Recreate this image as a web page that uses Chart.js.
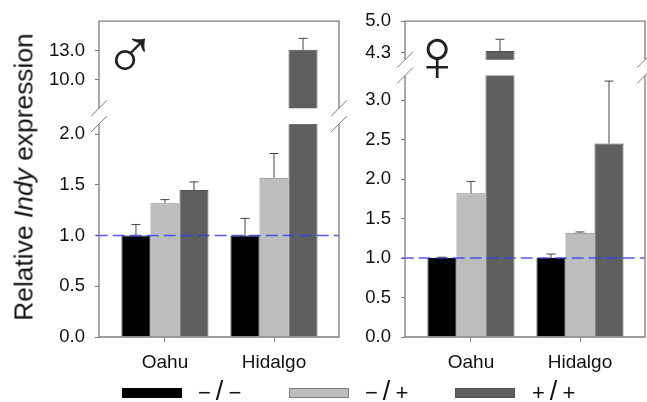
<!DOCTYPE html>
<html>
<head>
<meta charset="utf-8">
<script src="https://cdn.jsdelivr.net/npm/chart.js@4/dist/chart.umd.min.js"></script>
<style>
  body { margin: 0; background: #fff; width: 647px; height: 402px; overflow: hidden; position: relative; font-family: "Liberation Sans", sans-serif; color: #111; }
  canvas { position: absolute; top: 0; }
  .ylabel { position: absolute; left: 24px; top: 177px; font-size: 26.4px; white-space: nowrap; transform: translate(-50%, -50%) rotate(-90deg); }
  .sex { position: absolute; font-family: "Liberation Sans"; line-height: 1; transform: translate(-50%, -50%); color: #222; }
  .swatch { position: absolute; top: 388px; width: 60px; height: 10px; box-sizing: border-box; }
  .gt { position: absolute; top: 378px; font-size: 22px; line-height: 27px; white-space: nowrap; }
  .gt span { font-size: 27px; margin: 0 5px; }
</style>
</head>
<body>
<canvas id="male" width="348" height="402" style="left:0"></canvas>
<canvas id="female" width="302" height="402" style="left:345px"></canvas>
<div class="ylabel">Relative <i>Indy</i> expression</div>
<div class="sex" style="left:130px;top:54px;font-size:72px">♂</div>
<div class="sex" style="left:437px;top:55px;font-size:75px">♀</div>
<div id="legend"></div>

<script>
const sites = ['Oahu', 'Hidalgo'];
const genotypes = ['−/−', '−/+', '+/+'];
const fills = ['#000000', '#bdbdbd', '#5f5f5f'];
const edges = ['#000000', '#808080', '#505050'];
const axisGray = '#7c7c7c';

const maleNull = [1, 1];
const maleHet = [1.32, 1.57];
const maleHom = [1.45, 13.1];
const maleNullTop = [1.11, 1.17];
const maleHetTop = [1.355, 1.81];
const maleHomTop = [1.53, 14.3];
const maleTicks = [0, 0.5, 1, 1.5, 2, 10, 13];

const femaleNull = [1, 1];
const femaleHet = [1.82, 1.32];
const femaleHom = [4.34, 2.45];
const femaleNullTop = [1.01, 1.05];
const femaleHetTop = [1.97, 1.33];
const femaleHomTop = [4.6, 3.24];
const femaleTicks = [0, 0.5, 1, 1.5, 2, 2.5, 3, 4.3, 5];

const refLevel = [1, 1];

// y axis with a break: [value, fraction of axis height]
class BrokenScale extends Chart.LinearScale {
    getPixelForValue(value) {
        const stops = this.options.stops;
        let i = 0;
        while (i < stops.length - 2 && value > stops[i + 1][0]) i++;
        const a = stops[i], b = stops[i + 1];
        const f = a[1] + (value - a[0]) / (b[0] - a[0]) * (b[1] - a[1]);
        return this.bottom - f * (this.bottom - this.top);
    }
}
BrokenScale.id = 'broken';
BrokenScale.defaults = Chart.LinearScale.defaults;
Chart.register(BrokenScale);

const panelDecor = {
    id: 'panelDecor',
    afterDatasetsDraw(chart, args, opts) {
        const ctx = chart.ctx;
        const area = chart.chartArea;
        const y = chart.scales.y;
        const stops = y.options.stops;
        const gapBottom = y.getPixelForValue(stops[1][0]);
        const gapTop = y.getPixelForValue(stops[2][0]);

        ctx.save();
        // the break cuts through the tall bar
        ctx.fillStyle = '#fff';
        ctx.fillRect(area.left, gapTop, area.right - area.left, gapBottom - gapTop);

        // error bars, upward only
        ctx.strokeStyle = '#444';
        ctx.lineWidth = 1;
        opts.tops.forEach((tops, d) => {
            const meta = chart.getDatasetMeta(d);
            tops.forEach((top, i) => {
                const x = meta.data[i].x;
                const yTop = y.getPixelForValue(top);
                ctx.beginPath();
                ctx.moveTo(x, meta.data[i].y);
                ctx.lineTo(x, yTop);
                ctx.moveTo(x - 4.5, yTop);
                ctx.lineTo(x + 4.5, yTop);
                ctx.stroke();
            });
        });

        // frame, open at the break
        ctx.strokeStyle = axisGray;
        ctx.lineWidth = 1.3;
        ctx.beginPath();
        ctx.moveTo(area.left, gapTop);
        ctx.lineTo(area.left, area.top);
        ctx.lineTo(area.right, area.top);
        ctx.lineTo(area.right, gapTop);
        ctx.moveTo(area.left, gapBottom);
        ctx.lineTo(area.left, area.bottom);
        ctx.lineTo(area.right, area.bottom);
        ctx.lineTo(area.right, gapBottom);
        ctx.stroke();

        // slashes
        ctx.lineWidth = 1;
        [area.left, area.right].forEach(x => {
            [gapTop, gapBottom].forEach(py => {
                ctx.beginPath();
                ctx.moveTo(x - 8, py + 8);
                ctx.lineTo(x + 8, py - 8);
                ctx.stroke();
            });
        });
        ctx.restore();
    }
};

function points(values) {
    return values.map((v, i) => ({ x: i, y: v }));
}

function makePanel(id, series, tops, ticks, stops, axisWidth, padRight) {
    const xMin = -0.605, xMax = 1.596;
    const datasets = series.map((values, i) => ({
        label: genotypes[i],
        data: points(values),
        backgroundColor: fills[i],
        borderColor: edges[i],
        borderWidth: 1,
        categoryPercentage: 0.798,
        barPercentage: 1
    }));
    datasets.push({
        type: 'line',
        label: 'reference',
        data: [{ x: xMin - 0.03, y: refLevel[0] }, { x: xMax, y: refLevel[1] }],
        borderColor: 'rgba(60,60,235,0.85)',
        borderWidth: 1.5,
        borderDash: [12, 5],
        pointRadius: 0,
        clip: false,
        order: -1
    });
    return new Chart(document.getElementById(id), {
        type: 'bar',
        data: { datasets },
        options: {
            responsive: false,
            animation: false,
            layout: { padding: { top: 18, right: padRight, left: 0, bottom: 0 } },
            plugins: { legend: { display: false }, tooltip: { enabled: false }, panelDecor: { tops } },
            scales: {
                x: {
                    type: 'linear',
                    offset: false,
                    min: xMin,
                    max: xMax,
                    afterBuildTicks: s => { s.ticks = sites.map((n, i) => ({ value: i })); },
                    afterFit: s => { s.height = 65; },
                    border: { display: false },
                    grid: { offset: false, drawOnChartArea: false, color: axisGray, tickLength: 5 },
                    ticks: {
                        autoSkip: false,
                        maxRotation: 0,
                        padding: 9,
                        color: '#111',
                        font: { family: 'Liberation Sans', size: 19 },
                        callback: v => sites[v]
                    }
                },
                y: {
                    type: 'broken',
                    min: 0,
                    max: stops[3][0],
                    stops,
                    afterBuildTicks: s => { s.ticks = ticks.map(v => ({ value: v })); },
                    afterFit: s => { s.width = axisWidth; },
                    border: { display: false },
                    grid: { drawOnChartArea: false, color: axisGray, tickLength: 4 },
                    ticks: {
                        autoSkip: false,
                        padding: 10,
                        color: '#111',
                        font: { family: 'Liberation Sans', size: 18.5 },
                        callback: v => v.toFixed(1)
                    }
                }
            }
        },
        plugins: [panelDecor]
    });
}

makePanel('male',
    [maleNull, maleHet, maleHom],
    [maleNullTop, maleHetTop, maleHomTop],
    maleTicks,
    [[0, 0], [2.1, 0.674], [7, 0.724], [16.1, 1]],
    99, 9);

makePanel('female',
    [femaleNull, femaleHet, femaleHom],
    [femaleNullTop, femaleHetTop, femaleHomTop],
    femaleTicks,
    [[0, 0], [3.31, 0.8276], [4.15, 0.8777], [5, 1]],
    60, 2);

// legend along the bottom of the page
const legend = document.getElementById('legend');
const swatchLeft = [122, 289, 455];
const textLeft = [198, 365, 532];
genotypes.forEach((g, i) => {
    const s = document.createElement('div');
    s.className = 'swatch';
    s.style.left = swatchLeft[i] + 'px';
    s.style.background = fills[i];
    s.style.border = '1px solid ' + edges[i];
    legend.appendChild(s);
    const t = document.createElement('div');
    t.className = 'gt';
    t.style.left = textLeft[i] + 'px';
    const parts = g.split('/');
    t.append(parts[0]);
    const slash = document.createElement('span');
    slash.textContent = '/';
    t.append(slash);
    t.append(parts[1]);
    legend.appendChild(t);
});
</script>
</body>
</html>
